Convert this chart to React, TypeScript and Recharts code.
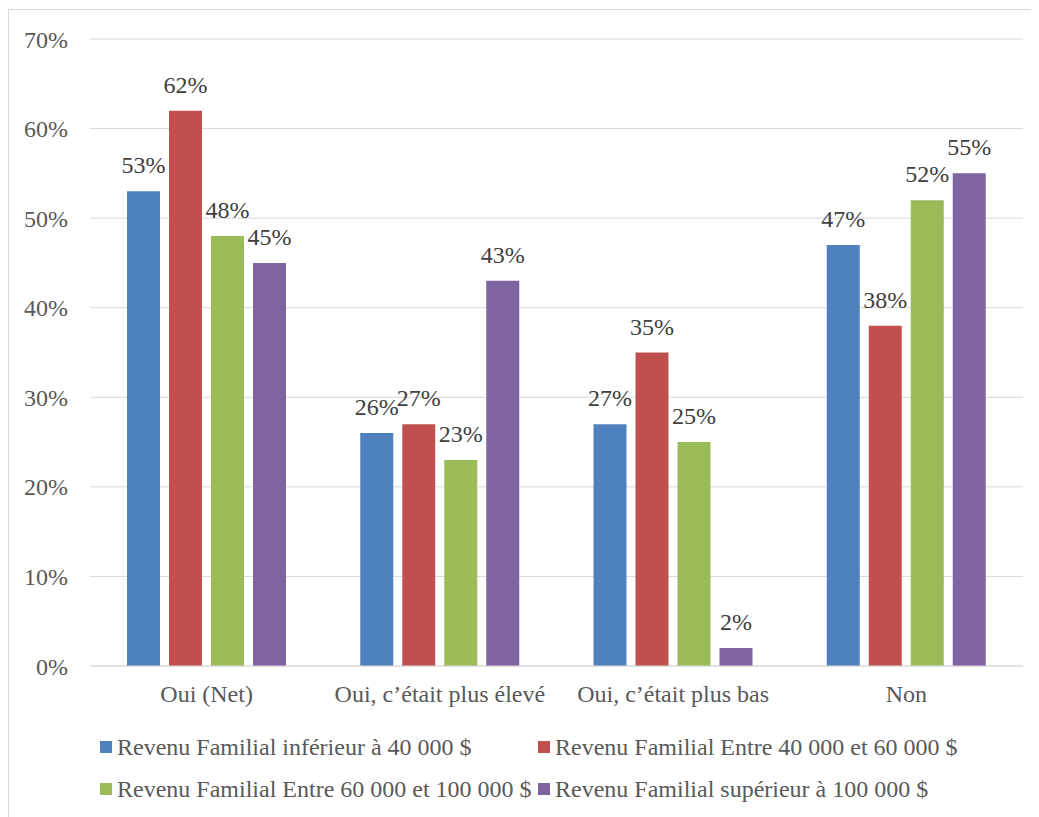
import React from "react";
import { BarChart, Bar, XAxis, YAxis, CartesianGrid, Legend, LabelList } from "recharts";

// Réponses par catégorie de revenu familial (en %)
const categories = ["Oui (Net)", "Oui, c\u2019\u00e9tait plus \u00e9lev\u00e9", "Oui, c\u2019\u00e9tait plus bas", "Non"];
const revenuMoins40k = [53, 26, 27, 47];
const revenu40a60k = [62, 27, 35, 38];
const revenu60a100k = [48, 23, 25, 52];
const revenuPlus100k = [45, 43, 2, 55];
const yTicks = [0, 10, 20, 30, 40, 50, 60, 70];

const series = [
  { key: "s1", name: "Revenu Familial inf\u00e9rieur \u00e0 40 000 $", color: "#4f81bd", values: revenuMoins40k },
  { key: "s2", name: "Revenu Familial Entre 40 000 et 60 000 $", color: "#c0504d", values: revenu40a60k },
  { key: "s3", name: "Revenu Familial Entre 60 000 et 100 000 $", color: "#9bbb59", values: revenu60a100k },
  { key: "s4", name: "Revenu Familial sup\u00e9rieur \u00e0 100 000 $", color: "#8064a2", values: revenuPlus100k },
];

const data = categories.map((c, i) => {
  const row: Record<string, string | number> = { category: c };
  series.forEach((s) => {
    row[s.key] = s.values[i];
  });
  return row;
});

const FONT = "'Liberation Serif', 'Times New Roman', serif";

const pct = (v: number | string) => `${v}%`;

function LegendGrid() {
  return (
    <div
      style={{
        display: "grid",
        gridTemplateColumns: "438px 460px",
        gridAutoRows: "42px",
        fontFamily: FONT,
        fontSize: 24,
        color: "#595959",
        textAlign: "left",
      }}
    >
      {series.map((s) => (
        <div key={s.key} style={{ display: "flex", alignItems: "center", whiteSpace: "nowrap" }}>
          <span style={{ display: "inline-block", width: 12, height: 12, background: s.color, marginRight: 5 }} />
          <span style={{ lineHeight: "28px" }}>{s.name}</span>
        </div>
      ))}
    </div>
  );
}

export default function App() {
  return (
    <div style={{ position: "relative", width: 1031, height: 809, overflow: "hidden" }}>
      <style>{`body{overflow:hidden}`}</style>
      <div
        style={{
          position: "absolute",
          left: 0,
          top: 1,
          width: 1050,
          height: 830,
          border: "1px solid #d9d9d9",
          boxSizing: "border-box",
        }}
      />
      <div style={{ position: "absolute", left: 0, top: 0 }}>
        <BarChart
          width={1031}
          height={809}
          data={data}
          margin={{ top: 31, right: 16, bottom: 111, left: 0 }}
          barSize={33}
          barGap={9}
        >
          <CartesianGrid vertical={false} stroke="#d9d9d9" />
          <XAxis
            dataKey="category"
            height={40}
            tickLine={false}
            tickSize={0}
            tickMargin={19}
            axisLine={{ stroke: "#d9d9d9" }}
            tick={{ fill: "#595959", fontSize: 24, fontFamily: FONT }}
            interval={0}
          />
          <YAxis
            width={82}
            domain={[0, 70]}
            ticks={yTicks}
            tickFormatter={pct}
            axisLine={false}
            tickLine={false}
            tickSize={0}
            tickMargin={22}
            tick={{ fill: "#595959", fontSize: 24, fontFamily: FONT }}
          />
          <Legend
            layout="horizontal"
            verticalAlign="middle"
            align="center"
            wrapperStyle={{ position: "absolute", left: 92, top: 718, width: 920 }}
            content={() => <LegendGrid />}
          />
          {series.map((s) => (
            <Bar key={s.key} dataKey={s.key} name={s.name} fill={s.color} isAnimationActive={false}>
              <LabelList
                dataKey={s.key}
                position="top"
                offset={18}
                formatter={pct}
                fill="#404040"
                fontSize={24}
                fontFamily={FONT}
              />
            </Bar>
          ))}
        </BarChart>
      </div>
    </div>
  );
}
